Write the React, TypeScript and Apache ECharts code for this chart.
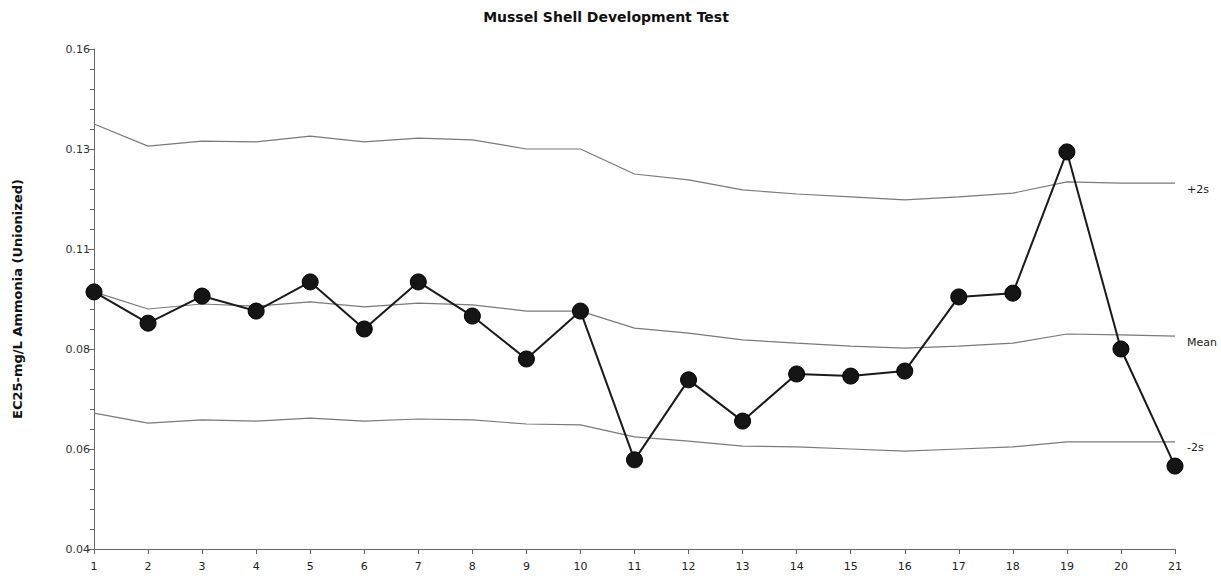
import React, { useEffect, useRef } from "react";
import * as echarts from "echarts";

const xCategories = ["1","2","3","4","5","6","7","8","9","10","11","12","13","14","15","16","17","18","19","20","21"];
const ec25Values = [0.1017,0.0942,0.1007,0.0971,0.1041,0.0928,0.1041,0.0959,0.0856,0.0971,0.0614,0.0806,0.0707,0.0820,0.0815,0.0827,0.1005,0.1014,0.1353,0.0880,0.0599];
const plus2sValues = [0.1420,0.1367,0.1379,0.1377,0.1391,0.1377,0.1386,0.1382,0.1360,0.1360,0.1300,0.1286,0.1262,0.1252,0.1245,0.1238,0.1245,0.1254,0.1281,0.1278,0.1278];
const meanValues = [0.1017,0.0976,0.0988,0.0983,0.0993,0.0981,0.0990,0.0986,0.0971,0.0971,0.0930,0.0918,0.0902,0.0894,0.0887,0.0882,0.0887,0.0894,0.0916,0.0914,0.0911];
const minus2sValues = [0.0726,0.0702,0.0710,0.0707,0.0714,0.0707,0.0712,0.0710,0.0700,0.0698,0.0669,0.0659,0.0647,0.0645,0.0640,0.0635,0.0640,0.0645,0.0657,0.0657,0.0657];
const yTickLabels = ["0.04","0.06","0.08","0.11","0.13","0.16"];
const yMin = 0.04;
const yMax = 0.16;

const FONT = "DejaVu Sans";

export default function App() {
  const ref = useRef<HTMLDivElement>(null);
  useEffect(() => {
    if (!ref.current) return;
    const chart = echarts.init(ref.current, null, { renderer: "svg" });
    const ctrlLine = (name: string, data: number[], label: string) => ({
      name,
      type: "line",
      yAxisIndex: 1,
      data,
      symbol: "none",
      silent: true,
      lineStyle: { color: "#7a7a7a", width: 1.2 },
      endLabel: {
        show: true,
        formatter: label,
        color: "#222",
        fontFamily: FONT,
        fontSize: 11,
        distance: 12,
        offset: [0, 6],
      },
      z: 2,
    });
    chart.setOption({
      animation: false,
      backgroundColor: "#ffffff",
      title: {
        text: "Mussel Shell Development Test",
        left: 601,
        textAlign: "center",
        top: 5,
        textStyle: { fontFamily: FONT, fontSize: 14, fontWeight: "bold", color: "#111" },
      },
      grid: { left: 94, right: 46, top: 49, bottom: 31, containLabel: false },
      xAxis: {
        type: "category",
        data: xCategories,
        boundaryGap: false,
        axisLine: { lineStyle: { color: "#666", width: 1 } },
        axisTick: { show: true, length: 5, inside: false, lineStyle: { color: "#666" } },
        axisLabel: { color: "#222", fontFamily: FONT, fontSize: 11, margin: 12 },
        splitLine: { show: false },
      },
      yAxis: [
        {
          type: "value",
          min: 0,
          max: 5,
          interval: 1,
          name: "EC25-mg/L Ammonia (Unionized)",
          nameLocation: "middle",
          nameGap: 70,
          nameRotate: 90,
          nameTextStyle: { fontFamily: FONT, fontSize: 13, fontWeight: "bold", color: "#111" },
          axisLine: { show: true, lineStyle: { color: "#666", width: 1 } },
          axisTick: { show: true, length: 6, inside: false, lineStyle: { color: "#666" } },
          minorTick: { show: true, splitNumber: 5, length: 4, lineStyle: { color: "#666" } },
          axisLabel: {
            color: "#333",
            fontFamily: FONT,
            fontSize: 11,
            margin: 4,
            formatter: (v: number) => yTickLabels[Math.round(v)] ?? "",
          },
          splitLine: { show: false },
        },
        {
          type: "value",
          min: yMin,
          max: yMax,
          show: false,
          splitLine: { show: false },
        },
      ],
      series: [
        ctrlLine("+2s", plus2sValues, "+2s"),
        ctrlLine("Mean", meanValues, "Mean"),
        ctrlLine("-2s", minus2sValues, "-2s"),
        {
          name: "EC25",
          type: "line",
          yAxisIndex: 1,
          data: ec25Values,
          symbol: "circle",
          symbolSize: 16,
          itemStyle: { color: "#151515", borderColor: "#000", borderWidth: 1 },
          lineStyle: { color: "#1a1a1a", width: 2 },
          z: 5,
        },
      ],
    });
    return () => chart.dispose();
  }, []);
  return (
    <div
      ref={ref}
      style={{ position: "absolute", left: 0, top: 0, width: 1221, height: 580 }}
    />
  );
}
